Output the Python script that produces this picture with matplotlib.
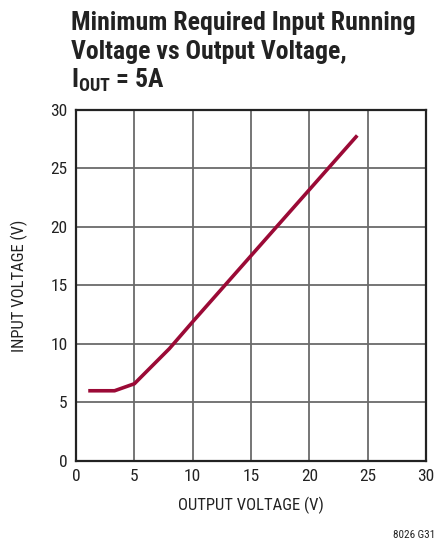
import matplotlib
matplotlib.use('Agg')
import matplotlib.pyplot as plt

vout = [1.2, 3.3, 5.0, 8.0, 10.0, 24.0]
vin = [6.0, 6.0, 6.6, 9.6, 11.9, 27.7]
ticks = [0, 5, 10, 15, 20, 25, 30]

plt.rcParams['font.family'] = ['Roboto Condensed', 'Liberation Sans', 'DejaVu Sans']
plt.rcParams['mathtext.fontset'] = 'custom'
plt.rcParams['mathtext.rm'] = 'Roboto Condensed:bold'
plt.rcParams['mathtext.it'] = 'Roboto Condensed:bold'
plt.rcParams['mathtext.bf'] = 'Roboto Condensed:bold'

fig = plt.figure(figsize=(4.37, 5.44), dpi=100)
ax = fig.add_axes([0.174, 0.1526, 0.801, 0.6454])

ax.plot(vout, vin, color='#9b0a36', lw=2.6, zorder=3)

ax.set_xlim(0, 30)
ax.set_ylim(0, 30)
ax.set_xticks(ticks)
ax.set_yticks(ticks)
ax.tick_params(length=0, labelsize=12.5, pad=6, colors='#222222')
ax.grid(True, color='#6a6a6a', lw=1.3)
for s in ax.spines.values():
    s.set_linewidth(1.6)
    s.set_color('#222222')

ax.set_xlabel('OUTPUT VOLTAGE (V)', fontsize=12, color='#222222', labelpad=9)
ax.set_ylabel('INPUT VOLTAGE (V)', fontsize=12, color='#222222', labelpad=16)

title_kw = dict(fontsize=18.5, fontweight='bold', color='#222222', va='baseline', ha='left')
fig.text(0.163, 1 - 30 / 544, 'Minimum Required Input Running', **title_kw)
fig.text(0.163, 1 - 59 / 544, 'Voltage vs Output Voltage,', **title_kw)
fig.text(0.163, 1 - 88 / 544, r'$\mathrm{I_{OUT}}$ = 5A', **title_kw)

fig.text(0.997, 1 - 538 / 544, '8026 G31', fontsize=8, color='#222222', ha='right', va='baseline')

fig.savefig('out.png', dpi=100)
